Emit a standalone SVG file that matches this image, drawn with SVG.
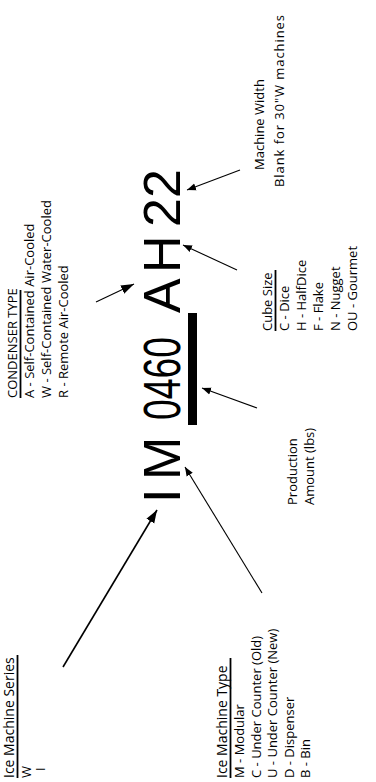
<svg xmlns="http://www.w3.org/2000/svg" width="376" height="782" viewBox="0 0 376 782">
<style>
.lbl{font-family:"Open Sans","Noto Sans",sans-serif;font-size:13px;fill:#000}
.hd{font-size:14px}
.code{font-family:"Liberation Sans",Arial,sans-serif;font-size:52px;fill:#000}
.ul{stroke:#000;stroke-width:1.8}
.con{stroke:#000;stroke-width:1.1;fill:none}
.thick{stroke-width:1.6}
</style>
<defs>
<marker id="ah" viewBox="0 0 10 10" refX="10" refY="5" markerWidth="9" markerHeight="9" orient="auto" markerUnits="userSpaceOnUse">
<path d="M0,1 L10,5 L0,9 z" fill="#000"/>
</marker>
<marker id="ahb" viewBox="0 0 10 10" refX="10" refY="5" markerWidth="13" markerHeight="13" orient="auto" markerUnits="userSpaceOnUse">
<path d="M0,1.5 L10,5 L0,8.5 z" fill="#000"/>
</marker>
</defs>
<rect width="376" height="782" fill="#fff"/>
<g transform="translate(0,782) rotate(-90)">
<g id="code">
<text class="code" x="279" y="180">I</text>
<text class="code" x="302" y="180">M</text>
<text class="code" x="362" y="180" textLength="83" lengthAdjust="spacingAndGlyphs">0460</text>
<text class="code" y="180"><tspan x="469">A</tspan><tspan x="509">H</tspan><tspan x="555">22</tspan></text>
<rect x="357" y="188" width="112" height="9" fill="#000"/>
</g>
<g id="series">
<text class="lbl hd" x="4" y="14">Ice Machine Series</text>
<line class="ul" x1="4" y1="17.5" x2="127" y2="17.5"/>
<text class="lbl" x="4" y="31">W</text>
<text class="lbl" x="11" y="45">I</text>
</g>
<g id="condenser">
<text class="lbl" x="384" y="17">CONDENSER TYPE</text>
<line class="ul" x1="384" y1="20.5" x2="492" y2="20.5"/>
<text class="lbl" x="384" y="34">A -  Self-Contained Air-Cooled</text>
<text class="lbl" x="384" y="51">W -  Self-Contained Water-Cooled</text>
<text class="lbl" x="384" y="68">R -  Remote Air-Cooled</text>
</g>
<g id="type">
<text class="lbl hd" x="4" y="227">Ice Machine Type</text>
<line class="ul" x1="4" y1="230.5" x2="124" y2="230.5"/>
<text class="lbl" x="4" y="244">M -  Modular</text>
<text class="lbl" x="4" y="261">C - Under Counter (Old)</text>
<text class="lbl" x="4" y="277">U -  Under Counter (New)</text>
<text class="lbl" x="4" y="294">D - Dispenser</text>
<text class="lbl" x="4" y="310">B - Bin</text>
</g>
<g id="production">
<text class="lbl" x="277" y="297">Production</text>
<text class="lbl" x="277" y="314">Amount (lbs)</text>
</g>
<g id="cube">
<text class="lbl" x="451" y="272">Cube Size</text>
<line class="ul" x1="451" y1="275.5" x2="512" y2="275.5"/>
<text class="lbl" x="451" y="289">C -  Dice</text>
<text class="lbl" x="451" y="306">H - HalfDice</text>
<text class="lbl" x="451" y="323">F - Flake</text>
<text class="lbl" x="451" y="340">N - Nugget</text>
<text class="lbl" x="451" y="357">OU - Gourmet</text>
</g>
<g id="width">
<text class="lbl" x="612" y="264">Machine Width</text>
<text class="lbl" x="595" y="284" textLength="172" lengthAdjust="spacing">Blank for 30"W machines</text>
</g>
<g id="connectors">
<line class="con thick" x1="115" y1="63" x2="272" y2="157" marker-end="url(#ahb)"/>
<line class="con" x1="189" y1="262" x2="315" y2="185" marker-end="url(#ah)"/>
<line class="con" x1="374" y1="257" x2="394" y2="202" marker-end="url(#ah)"/>
<line class="con" x1="480" y1="96" x2="498" y2="134" marker-end="url(#ahb)"/>
<line class="con" x1="512" y1="237" x2="537" y2="183" marker-end="url(#ah)"/>
<line class="con" x1="612" y1="240" x2="592" y2="187" marker-end="url(#ah)"/>
</g>
</g>
</svg>
